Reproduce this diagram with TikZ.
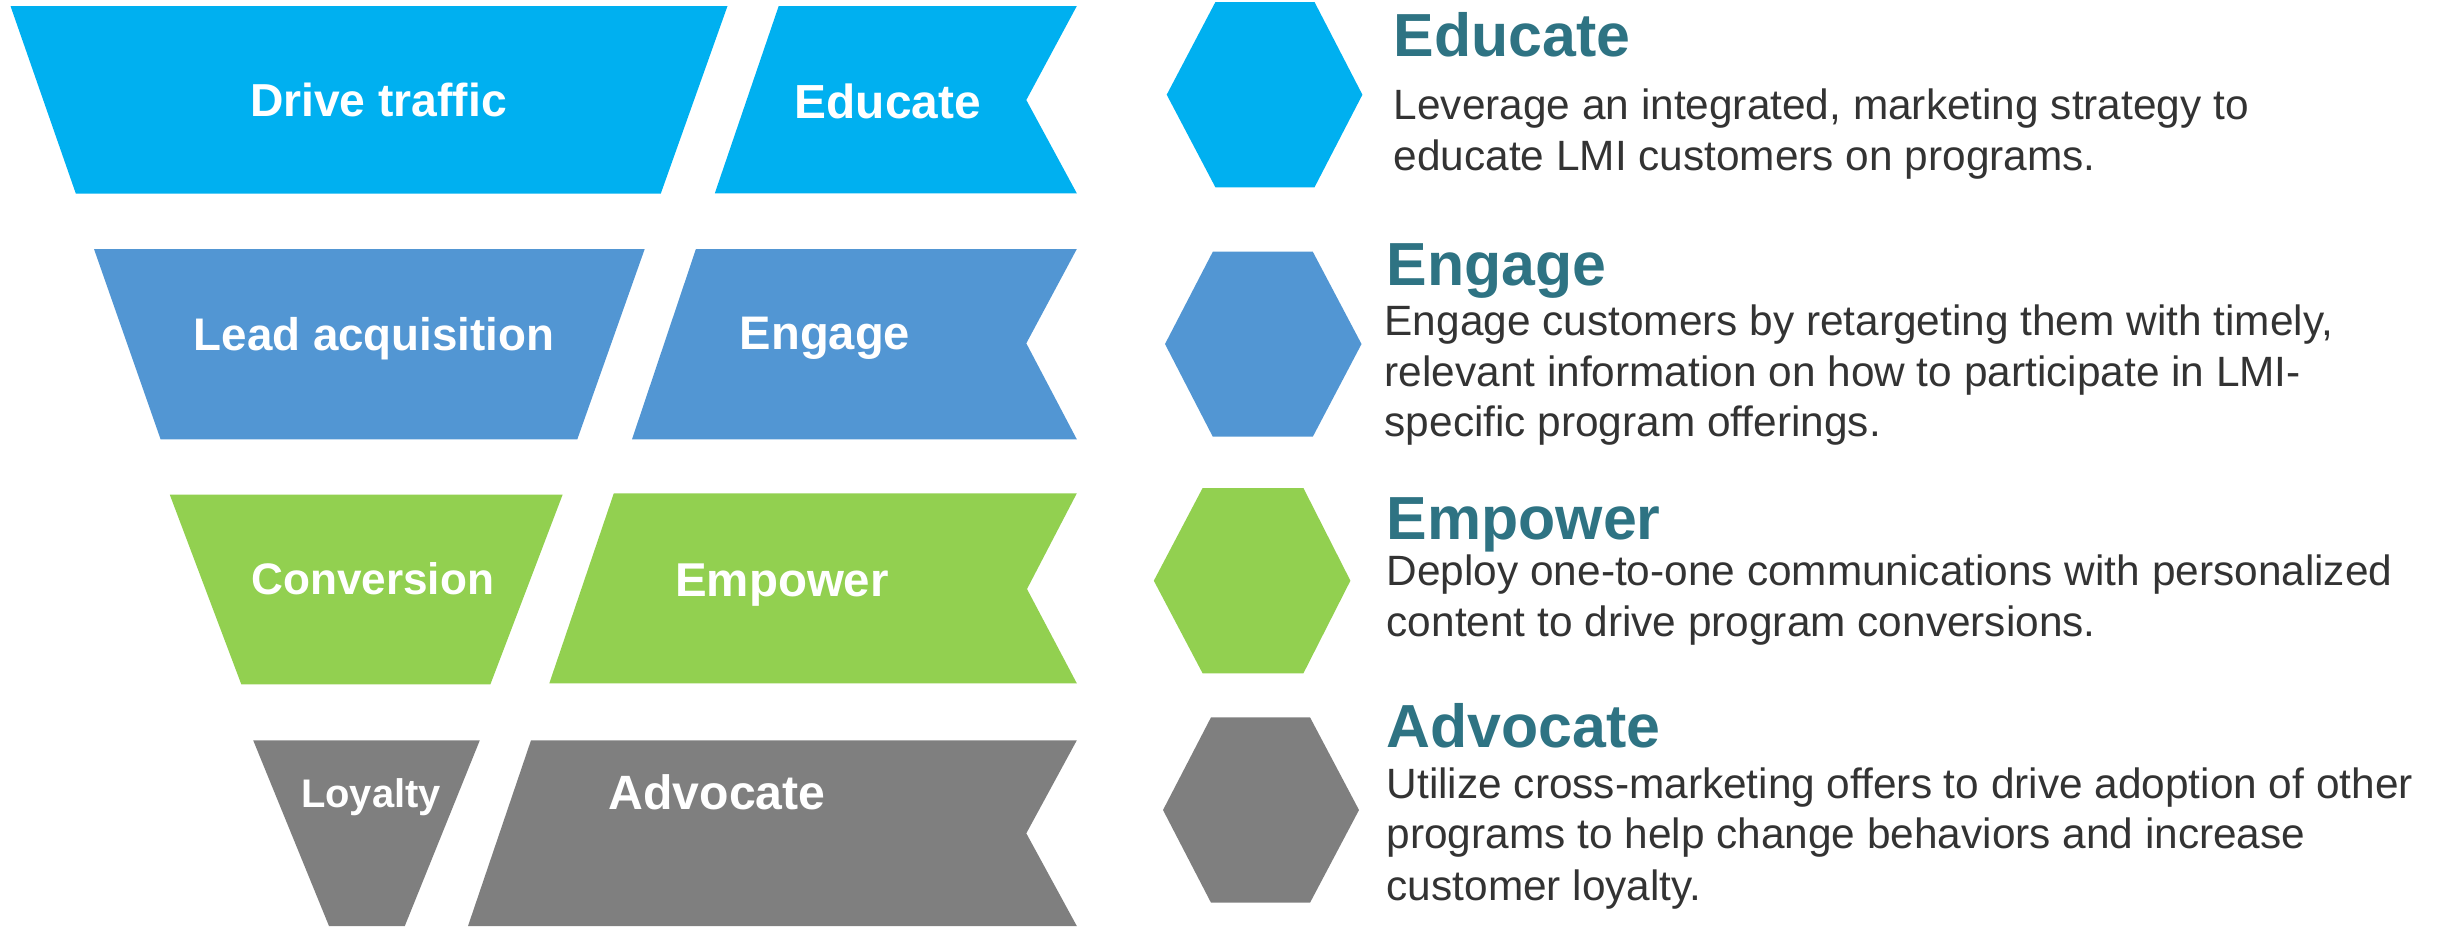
\documentclass[tikz,border=0pt]{standalone}
\usepackage{fontspec}
\setmainfont{Liberation Sans}
\definecolor{cyanband}{HTML}{00B0F0}
\definecolor{blueband}{HTML}{5296D3}
\definecolor{greenband}{HTML}{92D050}
\definecolor{grayband}{HTML}{7F7F7F}
\definecolor{headteal}{HTML}{2E7383}
\definecolor{bodygray}{HTML}{333333}
\begin{document}
\begin{tikzpicture}[x=0.01cm,y=-0.01cm,
  lbl/.style={text=white,font=\bfseries\fontsize{13}{15}\selectfont,inner sep=0pt,anchor=base},
  ttl/.style={text=headteal,font=\bfseries\fontsize{17.3}{20}\selectfont,inner sep=0pt,anchor=base west},
  txt/.style={text=bodygray,font=\fontsize{12.05}{14}\selectfont,inner sep=0pt,anchor=base west}]
\useasboundingbox (0,0) rectangle (2440,926);

% ---- funnel (left column) ----
\fill[cyanband]  (10.5,6) -- (727.5,6) -- (660.8,193.5) -- (75.8,193.5) -- cycle;
\fill[blueband]  (94,249) -- (644.7,249) -- (577.3,439.3) -- (160.6,439.3) -- cycle;
\fill[greenband] (169.8,494.7) -- (562.6,494.7) -- (490.4,684.3) -- (241.3,684.3) -- cycle;
\fill[grayband]  (253.2,740.3) -- (479.8,740.3) -- (404.8,926) -- (329,926) -- cycle;

% ---- chevron bands (middle column) ----
\fill[cyanband]  (778.7,6) -- (1076.8,6) -- (1026.3,100) -- (1076.8,193.3) -- (714.8,193.3) -- cycle;
\fill[blueband]  (695.9,249) -- (1076.8,249) -- (1026.3,343.3) -- (1076.8,439.3) -- (632,439.3) -- cycle;
\fill[greenband] (613.8,493.3) -- (1076.8,493.3) -- (1027,589) -- (1076.8,683.3) -- (549.3,683.3) -- cycle;
\fill[grayband]  (531,740.3) -- (1076.8,740.3) -- (1026.3,833.3) -- (1076.8,926) -- (468,926) -- cycle;

% ---- hexagons ----
\fill[cyanband]  (1215.4,2) -- (1314.5,2) -- (1362.4,94.7) -- (1314.5,187.3) -- (1215.4,187.3) -- (1166.7,94.7) -- cycle;
\fill[blueband]  (1212.8,251.7) -- (1312.8,251.7) -- (1361.5,344) -- (1312.8,436.7) -- (1212.8,436.7) -- (1165,344) -- cycle;
\fill[greenband] (1202.6,488) -- (1303.4,488) -- (1350.4,580.7) -- (1303.4,673.3) -- (1202.6,673.3) -- (1153.8,580.7) -- cycle;
\fill[grayband]  (1211,717.3) -- (1310,717.3) -- (1359,810) -- (1310,902.7) -- (1211,902.7) -- (1163,810) -- cycle;

% ---- band labels ----
\node[lbl,font=\bfseries\fontsize{13.15}{15}\selectfont] (drive) at (378.5,116) {Drive traffic};
\node[lbl] (lead) at (374,350.7) {Lead acquisition};
\node[lbl,font=\bfseries\fontsize{12.55}{15}\selectfont] (conv) at (372.7,594) {Conversion};
\node[lbl,font=\bfseries\fontsize{11.35}{13}\selectfont] (loyal) at (371,807.3) {Loyalty};
\node[lbl,font=\bfseries\fontsize{13.6}{16}\selectfont] (educ) at (887.8,118) {Educate};
\node[lbl,font=\bfseries\fontsize{13.4}{16}\selectfont] (eng) at (825,349.7) {Engage};
\node[lbl,font=\bfseries\fontsize{13.5}{16}\selectfont] (emp) at (782,596.7) {Empower};
\node[lbl,font=\bfseries\fontsize{13.7}{16}\selectfont] (adv) at (717,809) {Advocate};

% ---- descriptions ----
\node[ttl] (t1) at (1393,56) {Educate};
\node[txt] (d1a) at (1393,119) {Leverage an integrated, marketing strategy to};
\node[txt] (d1b) at (1393,170) {educate LMI customers on programs.};

\node[ttl] (t2) at (1386,285) {Engage};
\node[txt] (d2a) at (1384,335) {Engage customers by retargeting them with timely,};
\node[txt] (d2b) at (1384,386.7) {relevant information on how to participate in LMI-};
\node[txt] (d2c) at (1384,436.7) {specific program offerings.};

\node[ttl] (t3) at (1386,539) {Empower};
\node[txt] (d3a) at (1386,585) {Deploy one-to-one communications with personalized};
\node[txt] (d3b) at (1386,636) {content to drive program conversions.};

\node[ttl] (t4) at (1386,747.3) {Advocate};
\node[txt] (d4a) at (1386,798) {Utilize cross-marketing offers to drive adoption of other};
\node[txt] (d4b) at (1386,848) {programs to help change behaviors and increase};
\node[txt] (d4c) at (1386,900) {customer loyalty.};
\end{tikzpicture}
\end{document}
